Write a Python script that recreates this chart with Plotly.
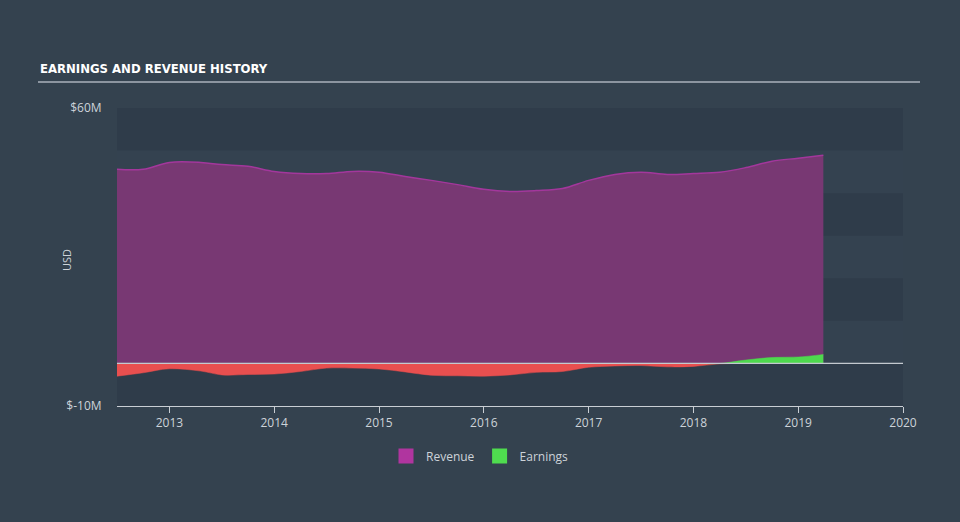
import plotly.graph_objects as go

# ---- data (values in $M) ----
years = [2012.5, 2012.75, 2013.0, 2013.3, 2013.5, 2013.75, 2014.0, 2014.25, 2014.5, 2014.75,
         2015.0, 2015.25, 2015.5, 2015.75, 2016.0, 2016.25, 2016.5, 2016.75, 2017.0, 2017.25,
         2017.5, 2017.75, 2018.0, 2018.25, 2018.5, 2018.75, 2019.0, 2019.24]
revenue = [45.6, 45.6, 47.2, 47.2, 46.7, 46.3, 45.1, 44.6, 44.6, 45.1,
           44.9, 43.9, 43.0, 42.0, 40.9, 40.4, 40.6, 41.1, 43.0, 44.4,
           44.9, 44.4, 44.6, 44.9, 46.0, 47.5, 48.2, 48.9]
earnings = [-3.0, -2.2, -1.25, -1.8, -2.7, -2.6, -2.5, -1.9, -1.1, -1.1,
            -1.3, -2.0, -2.8, -2.9, -3.0, -2.7, -2.1, -1.9, -0.9, -0.6,
            -0.5, -0.8, -0.7, -0.1, 0.8, 1.4, 1.5, 2.1]
x_ticks = [2013, 2014, 2015, 2016, 2017, 2018, 2019, 2020]
x_tick_labels = ["2013", "2014", "2015", "2016", "2017", "2018", "2019", "2020"]
y_ticks = [60, -10]
y_tick_labels = ["$60M", "$-10M"]
band_ranges = [(50, 60), (30, 40), (10, 20), (-10, 0)]

earn_neg = [min(e, 0) for e in earnings]
earn_pos = [max(e, 0) for e in earnings]

paper_bg = "#34424f"
dark_band = "#2f3c4a"
text_col = "#cdd3d9"

fig = go.Figure()
fig.add_trace(go.Scatter(
    x=years, y=revenue, name="Revenue", mode="lines", line_shape="spline",
    line=dict(color="#a3379c", width=1.5), fill="tozeroy", fillcolor="#783873",
    showlegend=False,
))
fig.add_trace(go.Scatter(
    x=years, y=earn_neg, name="Earnings", mode="lines", line_shape="spline",
    line=dict(color="#e84d4d", width=0.5), fill="tozeroy", fillcolor="#e84f4f",
    showlegend=False,
))
fig.add_trace(go.Scatter(
    x=years, y=earn_pos, name="Earnings", mode="lines", line_shape="spline",
    line=dict(color="#4cdb4c", width=0.5), fill="tozeroy", fillcolor="#4ed94e",
    showlegend=False,
))
# legend entries (square swatches)
fig.add_trace(go.Scatter(x=[None], y=[None], name="Revenue", mode="markers",
                         marker=dict(symbol="square", size=15, color="#b0359f")))
fig.add_trace(go.Scatter(x=[None], y=[None], name="Earnings", mode="markers",
                         marker=dict(symbol="square", size=15, color="#4fdc4f")))

shapes = []
for lo, hi in band_ranges:
    shapes.append(dict(type="rect", xref="paper", yref="y", x0=0, x1=1, y0=lo, y1=hi,
                       fillcolor=dark_band, line=dict(width=0), layer="below"))
shapes.append(dict(type="line", xref="paper", yref="y", x0=0, x1=1, y0=0, y1=0,
                   line=dict(color="#c3c9cf", width=1.2), layer="above"))
# title underline
shapes.append(dict(type="line", xref="paper", yref="paper", x0=(38 - 117) / 786, x1=(920 - 117) / 786,
                   y0=(406 - 82) / 298, y1=(406 - 82) / 298,
                   line=dict(color="#aab2bb", width=1.5)))

fig.update_layout(
    width=960, height=522,
    margin=dict(l=117, r=57, t=108, b=116),
    paper_bgcolor=paper_bg, plot_bgcolor="#344250",
    font=dict(family="Open Sans", color=text_col, size=12),
    shapes=shapes,
    showlegend=True,
    legend=dict(orientation="h", x=(480 - 117) / 786, xanchor="center", y=-50 / 298, yanchor="middle",
                font=dict(size=12, color=text_col), bgcolor="rgba(0,0,0,0)",
                itemwidth=30, tracegroupgap=0),
    annotations=[
        dict(text="<b>EARNINGS AND REVENUE HISTORY</b>", xref="paper", yref="paper",
             x=(38 - 117) / 786, y=(406 - 68) / 298, xanchor="left", yanchor="middle",
             showarrow=False,
             font=dict(family="DejaVu Sans Condensed, DejaVu Sans, sans-serif", size=13, color="#ffffff")),
        dict(text="USD", xref="paper", yref="paper", x=(66 - 117) / 786, y=(406 - 260) / 298,
             xanchor="center", yanchor="middle", textangle=-90, showarrow=False,
             font=dict(size=11, color=text_col)),
    ],
)
fig.update_xaxes(range=[2012.5, 2020], tickvals=x_ticks, ticktext=x_tick_labels,
                 showgrid=False, zeroline=False, showline=True, linecolor="#c9ced4", linewidth=1,
                 ticks="outside", ticklen=6, tickcolor="#c9ced4", tickfont=dict(size=12, color=text_col))
fig.update_yaxes(range=[-10, 60], tickvals=y_ticks, ticktext=y_tick_labels,
                 showgrid=False, zeroline=False, showline=False,
                 ticks="outside", ticklen=12, tickcolor="rgba(0,0,0,0)", tickfont=dict(size=12, color=text_col))

fig.write_html("out.html")
